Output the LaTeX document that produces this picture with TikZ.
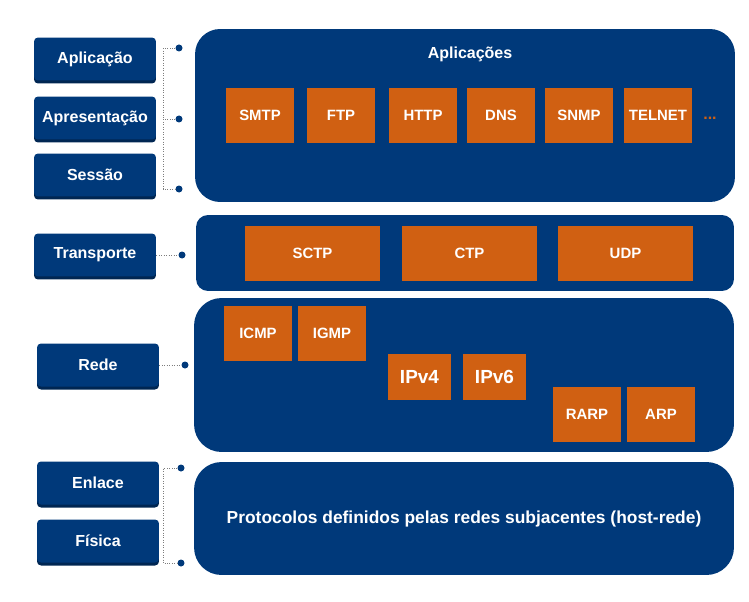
\documentclass[tikz,border=0pt]{standalone}
\usepackage{fontspec}
\setmainfont{Liberation Sans}
\usepackage{xcolor}
\usetikzlibrary{shadows}
\definecolor{navy}{RGB}{0,57,122}
\definecolor{navydark}{RGB}{0,38,82}
\definecolor{rust}{RGB}{208,96,18}
\definecolor{wire}{RGB}{125,125,125}

\begin{document}
\begin{tikzpicture}[x=0.02cm, y=-0.02cm,
		layer/.style={rectangle, fill=navy, text=white, rounded corners=0.5cm, minimum width=10.8cm, font=\fontsize{9.9}{12}\selectfont\bfseries},
		proto/.style={rectangle, fill=rust, text=white, inner sep=0pt, minimum width=1.36cm, minimum height=1.10cm, font=\fontsize{8.5}{10}\selectfont\bfseries},
		osi/.style={rectangle, fill=navy, text=white, rounded corners=0.08cm, inner sep=0pt, minimum width=2.44cm, minimum height=0.86cm, general shadow={fill=navydark, shadow yshift=-0.06cm}, font=\fontsize{9.1}{11}\selectfont\bfseries},
		link/.style={densely dotted, draw=wire, thin},
		pin/.style={circle, fill=navy, inner sep=0pt, minimum size=0.14cm}]
		\useasboundingbox (0,0) rectangle (749,601);

		% Application layer
		\node (B_Apl) at (465,115.5) [layer, minimum height=3.46cm] {};
		\node (T_Apl) at (470,54) [text=white, font=\fontsize{9.1}{11}\selectfont\bfseries] {Aplicações};
		\node (P_SMTP) at (260,115.5) [proto] {SMTP};
		\node (P_FTP) at (341,115.5) [proto] {FTP};
		\node (P_HTTP) at (423,115.5) [proto] {HTTP};
		\node (P_DNS) at (501,115.5) [proto] {DNS};
		\node (P_SNMP) at (579,115.5) [proto] {SNMP};
		\node (P_TELNET) at (658,115.5) [proto] {TELNET};
		\node (P_More) at (710,118) [text=rust, font=\fontsize{9.1}{11}\selectfont\bfseries] {...};

		% Transport layer
		\node (B_Tra) at (465,253) [layer, rounded corners=0.24cm, minimum width=10.76cm, minimum height=1.52cm] {};
		\node (P_SCTP) at (312.5,253.5) [proto, minimum width=2.70cm] {SCTP};
		\node (P_CTP) at (469.5,253.5) [proto, minimum width=2.70cm] {CTP};
		\node (P_UDP) at (625.5,253.5) [proto, minimum width=2.70cm] {UDP};

		% Network layer
		\node (B_Red) at (464,375) [layer, rounded corners=0.55cm, minimum height=3.08cm] {};
		\node (P_ICMP) at (258,333.5) [proto] {ICMP};
		\node (P_IGMP) at (332,333.5) [proto] {IGMP};
		\node (P_IPv4) at (419.5,377) [proto, minimum width=1.26cm, minimum height=0.92cm, font=\fontsize{10.8}{13}\selectfont\bfseries] {IPv4};
		\node (P_IPv6) at (494.5,377) [proto, minimum width=1.26cm, minimum height=0.92cm, font=\fontsize{10.8}{13}\selectfont\bfseries] {IPv6};
		\node (P_RARP) at (587,414.5) [proto] {RARP};
		\node (P_ARP) at (661,414.5) [proto] {ARP};

		% Host-to-network layer
		\node (B_Host) at (464,518.5) [layer, rounded corners=0.55cm, minimum height=2.26cm] {Protocolos definidos pelas redes subjacentes (host-rede)};

		% OSI layers on the left
		\node (L_Apl) at (95,59) [osi] {Aplicação};
		\node (L_Apr) at (95,118) [osi] {Apresentação};
		\node (L_Ses) at (95,175) [osi] {Sessão};
		\node (L_Tra) at (95,255) [osi] {Transporte};
		\node (L_Red) at (98,365) [osi] {Rede};
		\node (L_Enl) at (98,483) [osi] {Enlace};
		\node (L_Fis) at (98,541) [osi] {Física};

		% Pins at the layer boxes
		\node (d_Apl) at (179,48) [pin] {};
		\node (d_Apr) at (179,119) [pin] {};
		\node (d_Ses) at (179,189) [pin] {};
		\node (d_Tra) at (182,255) [pin] {};
		\node (d_Red) at (185,365) [pin] {};
		\node (d_Enl) at (181,468) [pin] {};
		\node (d_Fis) at (181,563) [pin] {};

		% Dotted brackets between the two columns
		\draw [link] (d_Apl) -- ++(-16,0) |- (d_Ses);
		\draw [link] (d_Apr) -- ++(-16,0);
		\draw [link] (L_Tra) -- (d_Tra);
		\draw [link] (L_Red) -- (d_Red);
		\draw [link] (d_Enl) -- ++(-18,0) |- (d_Fis);
	\end{tikzpicture}
\end{document}
